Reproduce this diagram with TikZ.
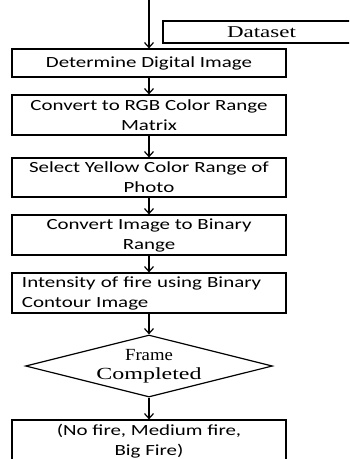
\documentclass[tikz,border=0pt]{standalone}
\usepackage{fontspec}
\setmainfont[FakeStretch=1.35]{Carlito}
\newfontfamily\serifface{Liberation Serif}
\usetikzlibrary{shapes.geometric,arrows.meta}
\tikzset{
  procbox/.style={draw, line width=1.2pt, minimum width=274pt, inner xsep=10pt, inner ysep=1pt,
    align=center, font=\fontsize{15.5pt}{20pt}\selectfont},
  flow/.style={line width=1.2pt, -{Straight Barb[length=5pt,width=9pt]}},
  seriftext/.style={font=\serifface\fontsize{17pt}{18.5pt}\selectfont, align=center, inner sep=0pt}
}
\begin{document}
\begin{tikzpicture}[x=1pt,y=-1pt]
\useasboundingbox (0,0) rectangle (349,459);
\clip (0,0) rectangle (349,459);
\coordinate (start) at (149,0);
\node[draw, line width=1.2pt, minimum width=197pt, minimum height=22pt, inner sep=0pt,
  font=\serifface\fontsize{16.5pt}{18pt}\selectfont] (data) at (261.5,32) {\scalebox{1.39}[1]{Dataset}};
\node[procbox, minimum height=28pt] (b1) at (149,63) {Determine Digital Image};
\node[procbox, minimum height=40pt] (b2) at (149,115) {Convert to RGB Color Range\\Matrix};
\node[procbox, minimum height=39pt] (b3) at (149,177.5) {Select Yellow Color Range of\\Photo};
\node[procbox, minimum height=40pt] (b4) at (149,235) {Convert Image to Binary\\Range};
\node[procbox, minimum height=40pt, text width=254pt, align=left] (b5) at (149,293) {Intensity of fire using Binary\\Contour Image};
\node[draw, diamond, line width=1.2pt, minimum width=247pt, minimum height=62pt, inner sep=0pt] (dec) at (149,366) {};
\node[seriftext] (dectext) at (dec.center) {\scalebox{1.1}[1]{Frame}\\\scalebox{1.41}[1]{Completed}};
\node[procbox, minimum height=42pt] (b6) at (149,441) {(No fire, Medium fire,\\Big Fire)};
\draw[flow] (start) -- (b1.north);
\draw[flow] (b1) -- (b2);
\draw[flow] (b2) -- (b3);
\draw[flow] (b3) -- (b4);
\draw[flow] (b4) -- (b5);
\draw[flow] (b5) -- (dec.north);
\draw[flow] (dec.south) -- (b6.north);
\end{tikzpicture}
\end{document}
